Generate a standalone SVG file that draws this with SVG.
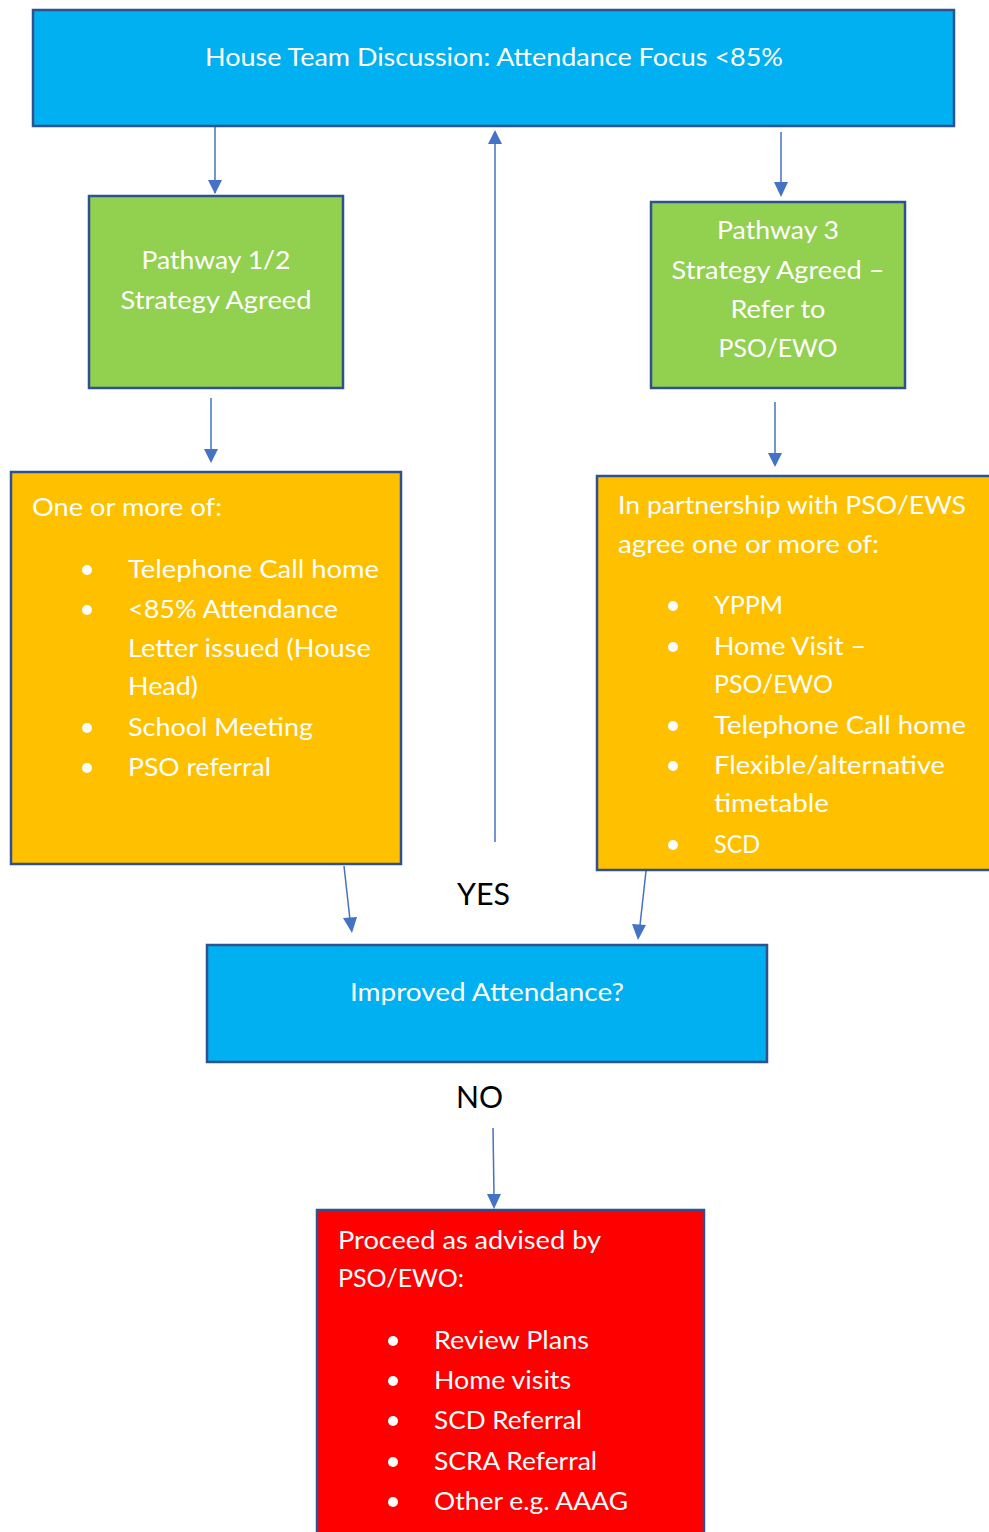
<svg xmlns="http://www.w3.org/2000/svg" width="989" height="1532" viewBox="0 0 989 1532">
<style>
.box{stroke:#2F528F;stroke-width:2.5}
.blue{fill:#00B0F0}
.green{fill:#92D050}
.orange{fill:#FFC000}
.red{fill:#FF0000}
.t{font-family:Lato,"Open Sans","Liberation Sans",sans-serif;font-size:25px;fill:#FFFFFF}
.c{text-anchor:middle}
.lbl{font-family:Lato,"Liberation Sans",sans-serif;font-size:31px;fill:#000000}
.conn{stroke:#4472C4;stroke-width:1.5;fill:none;marker-end:url(#ah)}
.dot{fill:#FFFFFF}
</style>
<defs>
<marker id="ah" viewBox="0 0 10 10" refX="10" refY="5" markerWidth="9" markerHeight="9" markerUnits="userSpaceOnUse" orient="auto">
<path d="M0,0 L10,5 L0,10 z" fill="#4472C4"/>
</marker>
</defs>
<rect width="989" height="1532" fill="#FFFFFF"/>
<g id="connectors">
<line class="conn" x1="215" y1="127" x2="215" y2="193" style="marker-end:none"/>
<path d="M208,180 L222,180 L215,194 z" fill="#4472C4"/>
<line x1="495" y1="842" x2="495" y2="142" stroke="#4472C4" stroke-width="1.5"/>
<path d="M488,144 L502,144 L495,130 z" fill="#4472C4"/>
<line x1="781" y1="132" x2="781" y2="184" stroke="#4472C4" stroke-width="1.5"/>
<path d="M774,182 L788,182 L781,197 z" fill="#4472C4"/>
<line x1="211" y1="398" x2="211" y2="450" stroke="#4472C4" stroke-width="1.5"/>
<path d="M204,449 L218,449 L211,463 z" fill="#4472C4"/>
<line x1="775" y1="402" x2="775" y2="454" stroke="#4472C4" stroke-width="1.5"/>
<path d="M768,453 L782,453 L775,467 z" fill="#4472C4"/>
<line x1="344" y1="866" x2="350" y2="920" stroke="#4472C4" stroke-width="1.5"/>
<path d="M343,918 L357,917 L352,933 z" fill="#4472C4"/>
<line x1="646" y1="871" x2="640" y2="925" stroke="#4472C4" stroke-width="1.5"/>
<path d="M632,924 L646,925 L638,940 z" fill="#4472C4"/>
<line x1="493" y1="1128" x2="494" y2="1195" stroke="#4472C4" stroke-width="1.5"/>
<path d="M487,1194 L501,1194 L494,1209 z" fill="#4472C4"/>
</g>
<g id="house-team">
<rect class="box blue" x="33" y="10" width="921" height="116"/>
<text class="t c" x="494" y="66" textLength="578" lengthAdjust="spacingAndGlyphs">House Team Discussion: Attendance Focus &lt;85%</text>
</g>
<g id="pathway12">
<rect class="box green" x="89" y="196" width="254" height="192"/>
<text class="t c" x="216" y="269" textLength="149" lengthAdjust="spacingAndGlyphs">Pathway 1/2</text>
<text class="t c" x="216" y="309" textLength="191" lengthAdjust="spacingAndGlyphs">Strategy Agreed</text>
</g>
<g id="pathway3">
<rect class="box green" x="651" y="202" width="254" height="186"/>
<text class="t c" x="778" y="239" textLength="122" lengthAdjust="spacingAndGlyphs">Pathway 3</text>
<text class="t c" x="778" y="279" textLength="213" lengthAdjust="spacingAndGlyphs">Strategy Agreed –</text>
<text class="t c" x="778" y="318" textLength="95" lengthAdjust="spacingAndGlyphs">Refer to</text>
<text class="t c" x="778" y="357" textLength="119" lengthAdjust="spacingAndGlyphs">PSO/EWO</text>
</g>
<g id="actions12">
<rect class="box orange" x="11" y="472" width="390" height="392"/>
<text class="t" x="32" y="516" textLength="190" lengthAdjust="spacingAndGlyphs">One or more of:</text>
<circle class="dot" cx="87" cy="570" r="5"/>
<text class="t" x="128" y="578" textLength="251" lengthAdjust="spacingAndGlyphs">Telephone Call home</text>
<circle class="dot" cx="87" cy="610" r="5"/>
<text class="t" x="128" y="618" textLength="210" lengthAdjust="spacingAndGlyphs">&lt;85% Attendance</text>
<text class="t" x="128" y="657" textLength="243" lengthAdjust="spacingAndGlyphs">Letter issued (House</text>
<text class="t" x="128" y="695" textLength="70" lengthAdjust="spacingAndGlyphs">Head)</text>
<circle class="dot" cx="87" cy="728" r="5"/>
<text class="t" x="128" y="736" textLength="185" lengthAdjust="spacingAndGlyphs">School Meeting</text>
<circle class="dot" cx="87" cy="768" r="5"/>
<text class="t" x="128" y="776" textLength="143" lengthAdjust="spacingAndGlyphs">PSO referral</text>
</g>
<g id="actions3">
<rect class="box orange" x="597" y="476" width="400" height="394"/>
<text class="t" x="618" y="514" textLength="348" lengthAdjust="spacingAndGlyphs">In partnership with PSO/EWS</text>
<text class="t" x="618" y="553" textLength="261" lengthAdjust="spacingAndGlyphs">agree one or more of:</text>
<circle class="dot" cx="673" cy="606" r="5"/>
<text class="t" x="714" y="614" textLength="69" lengthAdjust="spacingAndGlyphs">YPPM</text>
<circle class="dot" cx="673" cy="647" r="5"/>
<text class="t" x="714" y="655" textLength="152" lengthAdjust="spacingAndGlyphs">Home Visit –</text>
<text class="t" x="714" y="693" textLength="119" lengthAdjust="spacingAndGlyphs">PSO/EWO</text>
<circle class="dot" cx="673" cy="726" r="5"/>
<text class="t" x="714" y="734" textLength="252" lengthAdjust="spacingAndGlyphs">Telephone Call home</text>
<circle class="dot" cx="673" cy="766" r="5"/>
<text class="t" x="714" y="774" textLength="231" lengthAdjust="spacingAndGlyphs">Flexible/alternative</text>
<text class="t" x="714" y="812" textLength="115" lengthAdjust="spacingAndGlyphs">timetable</text>
<circle class="dot" cx="673" cy="845" r="5"/>
<text class="t" x="714" y="853" textLength="46" lengthAdjust="spacingAndGlyphs">SCD</text>
</g>
<g id="yes-label">
<text class="lbl" x="457" y="905" textLength="53" lengthAdjust="spacingAndGlyphs">YES</text>
</g>
<g id="improved">
<rect class="box blue" x="207" y="945" width="560" height="117"/>
<text class="t c" x="487" y="1001" textLength="274" lengthAdjust="spacingAndGlyphs">Improved Attendance?</text>
</g>
<g id="no-label">
<text class="lbl" x="456" y="1108" textLength="47" lengthAdjust="spacingAndGlyphs">NO</text>
</g>
<g id="proceed">
<rect class="box red" x="317" y="1210" width="387" height="330"/>
<text class="t" x="338" y="1249" textLength="263" lengthAdjust="spacingAndGlyphs">Proceed as advised by</text>
<text class="t" x="338" y="1287" textLength="126" lengthAdjust="spacingAndGlyphs">PSO/EWO:</text>
<circle class="dot" cx="393" cy="1341" r="5"/>
<text class="t" x="434" y="1349" textLength="155" lengthAdjust="spacingAndGlyphs">Review Plans</text>
<circle class="dot" cx="393" cy="1381" r="5"/>
<text class="t" x="434" y="1389" textLength="137" lengthAdjust="spacingAndGlyphs">Home visits</text>
<circle class="dot" cx="393" cy="1421" r="5"/>
<text class="t" x="434" y="1429" textLength="148" lengthAdjust="spacingAndGlyphs">SCD Referral</text>
<circle class="dot" cx="393" cy="1462" r="5"/>
<text class="t" x="434" y="1470" textLength="163" lengthAdjust="spacingAndGlyphs">SCRA Referral</text>
<circle class="dot" cx="393" cy="1502" r="5"/>
<text class="t" x="434" y="1510" textLength="194" lengthAdjust="spacingAndGlyphs">Other e.g. AAAG</text>
</g>
</svg>
